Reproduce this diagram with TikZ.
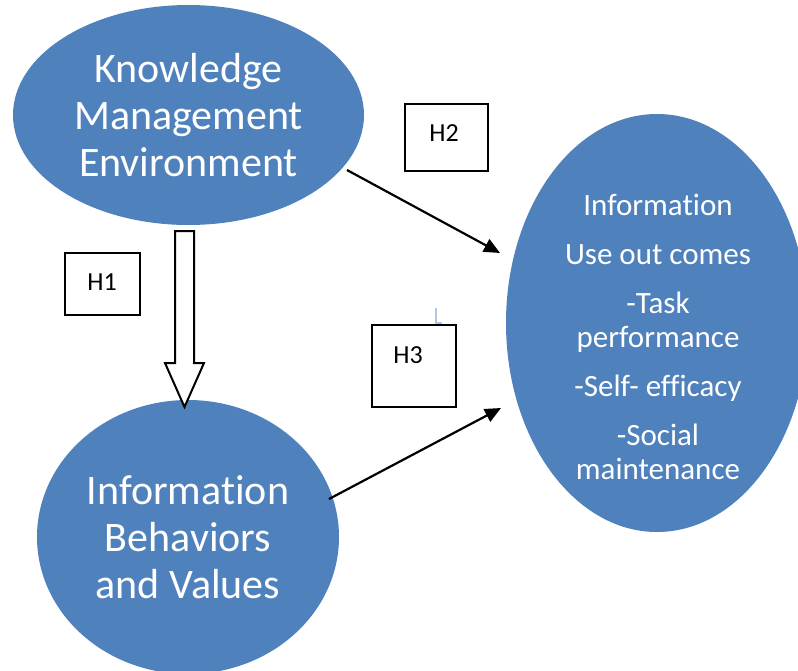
\documentclass[tikz,border=0pt]{standalone}
\usepackage{fontspec}
\setmainfont{Carlito}[Ligatures=NoCommon]
\usetikzlibrary{shapes.geometric,arrows.meta}
\definecolor{accblue}{HTML}{4F81BD}
\begin{document}
\begin{tikzpicture}[x=1pt,y=-1pt,
  blob/.style={ellipse, fill=accblue, draw=none, inner sep=0pt, text=white, align=center},
  bigtext/.style={font=\fontsize{42}{47}\selectfont},
  smalltext/.style={font=\fontsize{31}{34}\selectfont, text=white, align=center, inner sep=0pt},
  hbox/.style={draw=black, line width=2pt, inner sep=0pt},
  hlabel/.style={font=\fontsize{26}{30}\selectfont, inner sep=0pt},
  link/.style={line width=2.2pt, -{Triangle[length=16pt,width=14pt]}},
  block/.style={draw=black, line width=2pt, fill=white, line join=miter}]
\useasboundingbox (0,0) rectangle (798,670);

% ellipses
\node[blob, bigtext, minimum width=351pt, minimum height=220pt] (kme) at (188.5,115)
  {Knowledge\\Management\\Environment};
\node[blob, bigtext, minimum width=302pt, minimum height=274pt] (ibv) at (188,537)
  {Information\\Behaviors\\and Values};
\node[blob, minimum width=302pt, minimum height=418pt] (iuo) at (657,323) {};
\node[smalltext] (iuot) at (658,337)
  {Information\\[15pt]Use out comes\\[15pt]-Task\\performance\\[15pt]-Self- efficacy\\[15pt]-Social\\maintenance};

% hypothesis boxes
\node[hbox, minimum width=75pt, minimum height=62pt] (h1) at (102.5,284) {};
\node[hlabel] (h1t) at (102,282) {H1};
\node[hbox, minimum width=83pt, minimum height=67pt] (h2) at (446.5,137.5) {};
\node[hlabel] (h2t) at (444,133) {H2};
\node[hbox, minimum width=84pt, minimum height=82pt] (h3) at (414,366) {};
\node[hlabel] (h3t) at (408,355) {H3};

% hollow block arrow H1
\coordinate (b1) at (184.5,231);
\coordinate (b2) at (184.5,407);
\draw[block] ([xshift=-9.5pt]b1) -- ([xshift=9.5pt]b1) -- ([xshift=9.5pt,yshift=44pt]b2)
  -- ([xshift=19.5pt,yshift=44pt]b2) -- (b2) -- ([xshift=-19.5pt,yshift=44pt]b2)
  -- ([xshift=-9.5pt,yshift=44pt]b2) -- cycle;

% connectors H2 and H3
\coordinate (a2s) at (347,170);
\coordinate (a2e) at (500,253);
\coordinate (a3s) at (329,499);
\coordinate (a3e) at (501,408);
\draw[link] (a2s) -- (a2e);
\draw[link] (a3s) -- (a3e);

% small stray mark
\draw[accblue!45, line width=1.5pt] (436,308) -- (436,323) -- (442,323);
\end{tikzpicture}
\end{document}
